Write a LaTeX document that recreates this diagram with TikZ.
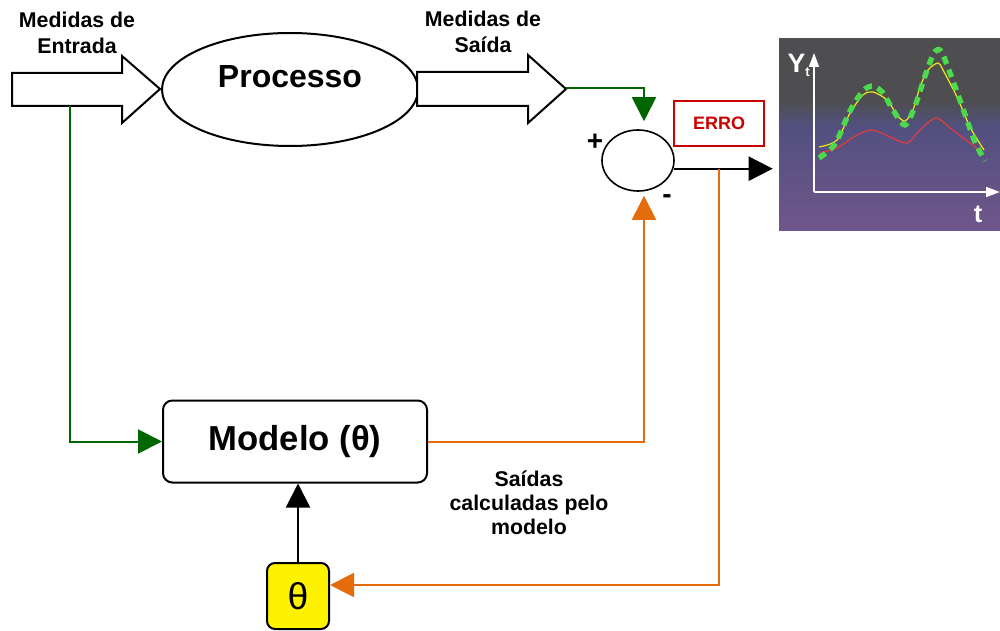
\documentclass[tikz,border=0pt]{standalone}
\usepackage{fontspec}
\setmainfont{Liberation Sans}
\usetikzlibrary{arrows.meta,positioning,shapes.geometric}

\definecolor{flowgreen}{RGB}{0,102,0}
\definecolor{floworange}{RGB}{228,108,10}
\definecolor{errred}{RGB}{204,0,0}
\definecolor{plotgray}{RGB}{78,78,80}
\definecolor{plotblue}{RGB}{82,80,128}
\definecolor{plotpurple}{RGB}{112,86,138}
\definecolor{dotgreen}{RGB}{76,217,76}
\definecolor{curveyellow}{RGB}{235,235,20}
\definecolor{curvered}{RGB}{225,60,60}

\begin{document}
\begin{tikzpicture}[x=0.75pt,y=-0.75pt,
    lbl/.style={font=\fontsize{16}{19.5}\selectfont\bfseries,align=center},
    bigtxt/.style={font=\fontsize{24}{28}\selectfont\bfseries},
    signtxt/.style={font=\fontsize{21}{22}\selectfont\bfseries},
    blockarr/.style={draw,line width=1.5pt,fill=white,line join=miter},
    greenflow/.style={draw=flowgreen,line width=1.5pt,-{Triangle[length=18pt,width=18pt]}},
    orangeflow/.style={draw=floworange,line width=1.5pt,-{Triangle[length=18pt,width=18pt]}},
    blackflow/.style={draw=black,line width=1.5pt,-{Triangle[length=18pt,width=18pt]}},
    axis/.style={draw=white,line width=1.2pt,-{Triangle[length=10.5pt,width=7.5pt]}}
]
\useasboundingbox (0,0) rectangle (1000,631);

\draw[blockarr] (12,73) -- (122,73) -- (122,56) -- (160,89) -- (122,123) -- (122,106) -- (12,106) -- cycle;
\node[ellipse,draw,line width=1.5pt,minimum width=192pt,minimum height=84.75pt,inner sep=0pt,
      label={[bigtxt,yshift=9.75pt]center:Processo}] (proc) at (290,89.5) {};
\draw[blockarr] (417,72) -- (528,72) -- (528,55) -- (566,89) -- (528,123) -- (528,106) -- (417,106) -- cycle;
\coordinate (inbranch) at (70,106);
\coordinate (outtip) at (566,88);

\node[lbl] (entrada) at (77,33) {Medidas de\\Entrada};
\node[lbl] (saida) at (483,31.5) {Medidas de\\Saída};

\node[ellipse,draw,line width=1.2pt,minimum width=54pt,minimum height=45.75pt,inner sep=0pt] (sum) at (638,160.5) {};
\node[signtxt] (plus) at (595,142) {+};
\node[signtxt] (minus) at (667,199) {-};
\node[draw=errred,line width=1.2pt,minimum width=67.5pt,minimum height=33.75pt,text=errred,
      font=\fontsize{13.5}{14}\selectfont\bfseries] (erro) at (719,123.5) {ERRO};

\node[draw,line width=1.5pt,rounded corners=7pt,minimum width=198pt,minimum height=61.5pt,
      font=\fontsize{26}{28}\selectfont\bfseries] (modelo) at (295,441.5) {Modelo (θ)};
\node[draw,line width=1.5pt,rounded corners=6pt,fill=yellow,minimum width=46.5pt,minimum height=49.5pt,
      font=\fontsize{28}{30}\selectfont] (theta) at (298,596) {θ};
\node[lbl,font=\fontsize{16}{18}\selectfont\bfseries] (calc) at (529,503) {Saídas\\calculadas pelo\\modelo};

\node[inner sep=0pt,minimum width=165.75pt,minimum height=144.75pt,fill=plotgray] (grafico) at (889.5,134.5) {};
\shade[top color=plotgray,bottom color=plotblue] (779,100) rectangle (1000,127);
\shade[top color=plotblue,bottom color=plotpurple] (779,127) rectangle (1000,231);
\coordinate (origem) at (814,192);
\draw[axis] (origem) -- (814,53);
\draw[axis] (origem) -- (1000,192);
\node[text=white,font=\fontsize{20}{20}\selectfont\bfseries,inner sep=0pt] (ylab) at (799,65) {Y\textsubscript{\fontsize{10}{10}\selectfont t}};
\node[text=white,font=\fontsize{19}{20}\selectfont\bfseries] (tlab) at (978,214) {t};
\draw[curvered,line width=0.9pt] plot[smooth] coordinates {(819,153) (837,148) (857,135) (873,130) (890,137) (907,143) (920,130) (936,118) (950,128) (970,143) (983,153)};
\draw[curveyellow,line width=0.9pt] plot[smooth] coordinates {(819,147) (837,140) (850,113) (863,95) (873,92) (887,100) (897,115) (905,121) (913,110) (920,87) (928,70) (938,63) (943,70) (957,97) (970,127) (984,150)};
\draw[dotgreen,line width=4pt,dash pattern=on 6pt off 4.5pt] plot[smooth] coordinates {(819,158) (835,144) (850,111) (863,91) (873,86) (883,93) (893,110) (905,125) (915,106) (925,76) (934,53) (941,51) (950,73) (962,106) (975,142) (985,161)};

\draw[greenflow,shorten >=6pt] (outtip) -| ([xshift=4.5pt]sum.north);
\draw[greenflow] (inbranch) |- (modelo.west);
\draw[orangeflow,shorten >=3pt] (modelo.east) -| ([xshift=4.5pt]sum.south);
\draw[blackflow,shorten >=4.5pt] (sum.-13) -- (sum.-13 -| grafico.west);
\coordinate (errtap) at (erro.south |- sum.-13);
\draw[orangeflow] (errtap) |- ([yshift=8.25pt]theta.east);
\draw[blackflow] (theta.north) -- (theta.north |- modelo.south);
\end{tikzpicture}
\end{document}
